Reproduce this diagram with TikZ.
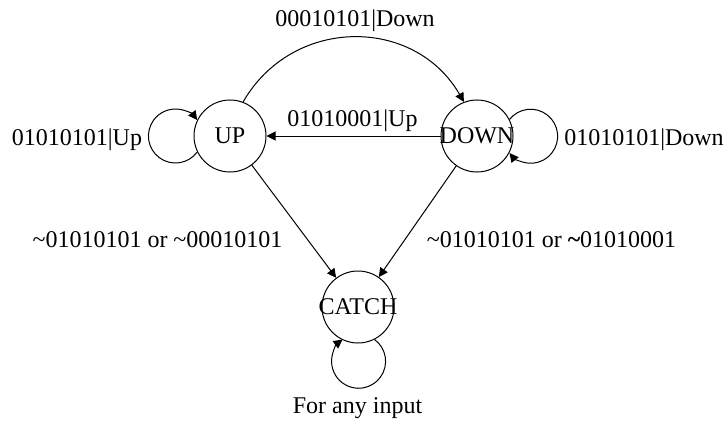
\documentclass[tikz,border=0pt]{standalone}
\usepackage{fontspec}
\setmainfont{Liberation Serif}
\usetikzlibrary{arrows.meta}
\begin{document}
\begin{tikzpicture}[x=1pt,y=1pt,
  every node/.style={font=\fontsize{24}{28}\selectfont},
  state/.style={draw, circle, line width=1pt, minimum size=72pt, inner sep=0pt},
  lbl/.style={anchor=base, inner sep=0pt},
  edge/.style={line width=1pt, -{Triangle[length=9pt,width=9pt]}}]
\useasboundingbox (0,0) rectangle (728,424);

% states
\node[state] (UP)    at (230,288) {\makebox[0pt]{UP}};
\node[state] (DOWN)  at (477,288) {\makebox[0pt]{DOWN}};
\node[state] (CATCH) at (358,117) {\makebox[0pt]{CATCH}};

% transitions between states
\draw[edge] (UP.69) to[out=60,in=120,looseness=1.15] (DOWN.111);
\draw[edge] (DOWN) -- (UP);
\draw[edge] (UP) -- (CATCH);
\draw[edge] (DOWN) -- (CATCH);

% self loops
\draw[edge] (UP.206.4) arc[start angle=-36.3, end angle=-323.7, radius=27];
\draw[edge] (DOWN.27.8) arc[start angle=141.5, end angle=-141.5, radius=27];
\draw[edge] (CATCH.-63.6) arc[start angle=53.7, end angle=-233.7, radius=27];

% transition labels
\node[lbl] (l1) at (355,397) {00010101|Down};
\node[lbl] (l2) at (352.5,298) {01010001|Up};
\node[lbl] (l3) at (77,279) {01010101|Up};
\node[lbl] (l4) at (644,279) {01010101|Down};
\node[lbl] (l5) at (157.5,177) {\textasciitilde01010101 or \textasciitilde00010101};
\node[lbl] (l6) at (551.5,177) {\textasciitilde01010101 or {\bfseries\textasciitilde}01010001};
\node[lbl] (l7) at (357.5,11) {For any input};
\end{tikzpicture}
\end{document}
